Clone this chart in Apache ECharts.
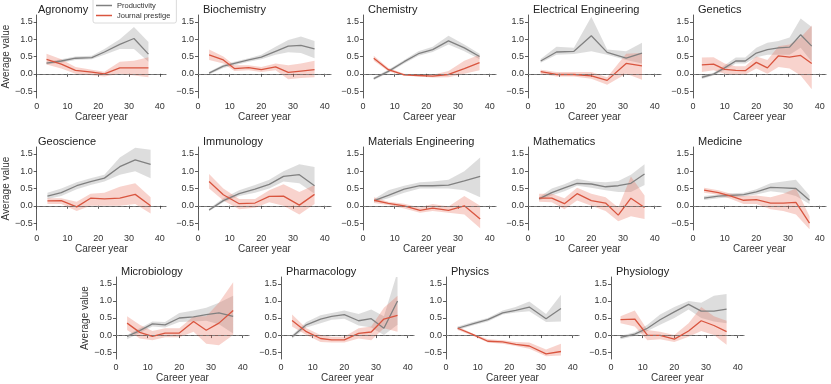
<!DOCTYPE html>
<html>
<head>
<meta charset="utf-8">
<script src="https://cdn.jsdelivr.net/npm/echarts@6/dist/echarts.min.js"></script>
<style>
  html, body { margin: 0; padding: 0; background: #fff; }
  #chart { width: 831px; height: 384px; }
</style>
</head>
<body>
<div id="chart"></div>
<script>
  // fields, in panel order (5 per row, last row 4)
  var fields = ['Agronomy', 'Biochemistry', 'Chemistry', 'Electrical Engineering', 'Genetics',
    'Geoscience', 'Immunology', 'Materials Engineering', 'Mathematics', 'Medicine',
    'Microbiology', 'Pharmacology', 'Physics', 'Physiology']

  var careerYears = [
    [3.2, 8, 12.6, 17.9, 22, 27, 31.6, 36.3],
    [3.5, 8, 11.5, 16, 20, 24.5, 28.5, 32.5, 36.8],
    [3.4, 8, 13, 17.5, 22, 27, 32, 36.8],
    [4, 9, 14.5, 20, 25, 31, 36],
    [2.8, 6.5, 10, 13.5, 16.5, 20, 23.5, 27, 30.5, 34, 37.5],
    [3.5, 8, 13, 17.5, 22, 27, 32, 37],
    [3.5, 8, 13, 18, 22.5, 27, 32, 36.8],
    [3.5, 8, 13, 18, 22, 27, 32, 37],
    [3.5, 7.5, 11.5, 15.5, 20, 24.5, 28.5, 32.5, 36.8],
    [3.5, 8, 12, 16, 20, 24.5, 28.5, 32.5, 36.8],
    [3.5, 7.5, 11.5, 15.5, 20, 24.5, 28.5, 32.5, 37],
    [3.5, 8, 12.5, 16, 20, 24.5, 28.5, 32.5, 36.8],
    [3.7, 8.4, 13.2, 17.9, 22, 26.3, 31.6, 36.3],
    [3, 7.5, 11.5, 15.5, 20, 24.5, 28.5, 32.5, 36.5]
  ]

  var productivity = [
    [0.31, 0.37, 0.45, 0.47, 0.63, 0.85, 1.02, 0.57],
    [0.02, 0.22, 0.30, 0.40, 0.48, 0.65, 0.80, 0.82, 0.72],
    [-0.14, 0.07, 0.35, 0.58, 0.70, 0.95, 0.75, 0.50],
    [0.37, 0.63, 0.65, 1.10, 0.62, 0.45, 0.60],
    [-0.10, -0.01, 0.17, 0.37, 0.37, 0.60, 0.70, 0.75, 0.77, 1.13, 0.80],
    [0.28, 0.38, 0.58, 0.70, 0.80, 1.13, 1.33, 1.20],
    [-0.12, 0.15, 0.35, 0.48, 0.62, 0.85, 0.90, 0.58],
    [0.15, 0.30, 0.48, 0.58, 0.58, 0.60, 0.72, 0.85],
    [0.20, 0.38, 0.52, 0.65, 0.63, 0.55, 0.58, 0.65, 0.92],
    [0.22, 0.28, 0.30, 0.32, 0.40, 0.53, 0.52, 0.50, 0.16],
    [-0.04, 0.13, 0.33, 0.30, 0.50, 0.53, 0.60, 0.65, 0.55],
    [-0.05, 0.30, 0.47, 0.55, 0.60, 0.42, 0.48, 0.20, 1.00],
    [0.20, 0.33, 0.45, 0.65, 0.72, 0.82, 0.48, 0.78],
    [-0.07, 0.03, 0.20, 0.45, 0.68, 0.90, 0.70, 0.70, 0.76]
  ]
  var productivityLow = [
    [0.27, 0.32, 0.40, 0.42, 0.55, 0.72, 0.72, 0.35],
    [-0.02, 0.17, 0.25, 0.35, 0.42, 0.55, 0.62, 0.60, 0.45],
    [-0.18, 0.02, 0.30, 0.52, 0.63, 0.85, 0.65, 0.42],
    [0.32, 0.55, 0.57, 0.65, 0.55, 0.40, 0.30],
    [-0.15, -0.05, 0.10, 0.30, 0.30, 0.48, 0.55, 0.55, 0.55, 0.75, 0.35],
    [0.20, 0.28, 0.48, 0.60, 0.70, 0.90, 1.00, 0.80],
    [-0.16, 0.10, 0.28, 0.38, 0.50, 0.70, 0.65, 0.35],
    [0.10, 0.22, 0.38, 0.50, 0.50, 0.50, 0.45, 0.25],
    [0.15, 0.30, 0.42, 0.58, 0.52, 0.45, 0.40, 0.40, 0.60],
    [0.17, 0.22, 0.25, 0.27, 0.33, 0.42, 0.38, 0.28, 0.05],
    [-0.12, 0.06, 0.25, 0.22, 0.38, 0.40, 0.42, 0.32, 0.05],
    [-0.10, 0.22, 0.35, 0.45, 0.48, 0.28, 0.22, 0.00, 0.30],
    [0.15, 0.28, 0.40, 0.60, 0.66, 0.70, 0.38, 0.40],
    [-0.12, -0.03, 0.12, 0.30, 0.50, 0.75, 0.50, 0.40, 0.35]
  ]
  var productivityHigh = [
    [0.35, 0.42, 0.50, 0.52, 0.72, 1.00, 1.35, 0.92],
    [0.06, 0.27, 0.35, 0.45, 0.55, 0.78, 0.98, 1.08, 0.95],
    [-0.10, 0.12, 0.40, 0.65, 0.78, 1.10, 0.85, 0.58],
    [0.43, 0.78, 0.75, 1.65, 0.70, 0.65, 0.90],
    [-0.05, 0.03, 0.25, 0.47, 0.47, 0.75, 0.90, 0.95, 1.05, 1.60, 1.35],
    [0.38, 0.50, 0.68, 0.80, 0.90, 1.40, 1.68, 1.62],
    [-0.08, 0.22, 0.45, 0.60, 0.75, 1.00, 1.20, 1.12],
    [0.20, 0.45, 0.58, 0.68, 0.70, 0.75, 1.00, 1.40],
    [0.25, 0.50, 0.62, 0.78, 0.70, 0.68, 0.72, 0.90, 1.20],
    [0.28, 0.33, 0.36, 0.38, 0.48, 0.65, 0.70, 0.75, 0.30],
    [0.00, 0.20, 0.40, 0.38, 0.65, 0.72, 0.80, 0.95, 1.15],
    [0.00, 0.38, 0.58, 0.65, 0.72, 0.62, 0.75, 0.55, 1.85],
    [0.25, 0.38, 0.50, 0.72, 0.82, 0.98, 0.62, 1.18],
    [-0.02, 0.08, 0.30, 0.60, 0.82, 1.00, 0.95, 1.15, 1.20]
  ]

  var prestige = [
    [0.42, 0.28, 0.10, 0.05, 0.00, 0.17, 0.17, 0.17],
    [0.55, 0.40, 0.15, 0.18, 0.12, 0.20, 0.04, 0.08, 0.12],
    [0.45, 0.12, -0.03, -0.05, -0.07, -0.02, 0.15, 0.32],
    [0.06, -0.02, -0.02, -0.06, -0.19, 0.30, 0.23],
    [0.26, 0.28, 0.13, 0.10, 0.09, 0.33, 0.17, 0.52, 0.48, 0.53, 0.30],
    [0.14, 0.15, -0.03, 0.22, 0.20, 0.22, 0.33, 0.00],
    [0.70, 0.32, 0.06, 0.08, 0.27, 0.28, 0.02, 0.33],
    [0.16, 0.07, 0.00, -0.13, -0.07, -0.13, 0.00, -0.38],
    [0.22, 0.22, 0.06, 0.35, 0.15, 0.08, -0.27, 0.22, -0.05],
    [0.45, 0.38, 0.28, 0.16, 0.18, 0.08, 0.08, 0.10, -0.50],
    [0.35, 0.08, -0.04, 0.06, 0.06, 0.40, 0.14, 0.35, 0.72],
    [0.43, 0.10, -0.10, -0.14, -0.14, 0.05, 0.09, 0.47, 0.58],
    [0.20, 0.02, -0.18, -0.20, -0.27, -0.32, -0.55, -0.48],
    [0.45, 0.47, 0.00, -0.01, -0.12, 0.12, 0.42, 0.28, 0.10]
  ]
  var prestigeLow = [
    [0.27, 0.15, 0.00, -0.04, -0.08, 0.00, -0.05, -0.10],
    [0.40, 0.30, 0.08, 0.10, 0.05, 0.10, -0.16, -0.12, -0.10],
    [0.38, 0.07, -0.06, -0.08, -0.11, -0.10, 0.00, 0.10],
    [0.00, -0.08, -0.08, -0.14, -0.32, 0.00, -0.17],
    [0.05, 0.10, 0.00, -0.02, -0.02, 0.15, 0.00, 0.20, 0.15, -0.05, -0.45],
    [0.05, 0.05, -0.15, 0.00, 0.00, 0.00, 0.05, -0.22],
    [0.50, 0.15, -0.10, -0.06, 0.10, 0.00, -0.25, 0.05],
    [0.08, 0.02, -0.08, -0.20, -0.15, -0.20, -0.25, -0.65],
    [0.12, 0.10, -0.10, 0.15, 0.00, -0.15, -0.45, -0.30, -0.38],
    [0.38, 0.32, 0.20, 0.05, 0.05, -0.10, -0.15, -0.25, -0.68],
    [0.15, -0.10, -0.15, -0.06, -0.06, 0.10, -0.25, -0.30, 0.00],
    [0.25, 0.00, -0.20, -0.22, -0.22, -0.10, -0.15, 0.20, 0.10],
    [0.15, -0.02, -0.22, -0.25, -0.32, -0.40, -0.62, -0.60],
    [0.35, 0.25, -0.15, -0.12, -0.20, -0.05, 0.12, 0.00, -0.28]
  ]
  var prestigeHigh = [
    [0.58, 0.42, 0.20, 0.12, 0.06, 0.35, 0.38, 0.48],
    [0.70, 0.50, 0.25, 0.25, 0.20, 0.30, 0.25, 0.30, 0.38],
    [0.52, 0.17, 0.00, -0.02, -0.03, 0.08, 0.38, 0.55],
    [0.12, 0.05, 0.05, 0.05, -0.10, 0.58, 0.60],
    [0.47, 0.48, 0.30, 0.22, 0.22, 0.50, 0.40, 0.80, 0.85, 1.05, 1.40],
    [0.22, 0.22, 0.12, 0.35, 0.38, 0.55, 0.65, 0.25],
    [0.92, 0.50, 0.20, 0.20, 0.45, 0.62, 0.40, 0.60],
    [0.25, 0.12, 0.06, -0.05, 0.05, -0.02, 0.28, 0.00],
    [0.35, 0.35, 0.22, 0.52, 0.35, 0.25, -0.05, 0.85, 0.30],
    [0.52, 0.45, 0.35, 0.28, 0.30, 0.25, 0.35, 0.50, -0.30],
    [0.55, 0.30, 0.12, 0.20, 0.20, 0.55, 0.55, 0.95, 1.55],
    [0.60, 0.20, 0.00, -0.05, -0.05, 0.20, 0.25, 0.80, 1.15],
    [0.25, 0.05, -0.12, -0.15, -0.20, -0.22, -0.42, -0.25],
    [0.55, 0.72, 0.15, 0.10, 0.00, 0.35, 0.82, 0.55, 0.42]
  ]

  var xTicks = [0, 10, 20, 30, 40]
  var yTicks = [-0.5, 0, 0.5, 1.0, 1.5]

  var font = 'Liberation Sans'
  var grayLine = '#808080'
  var redLine = '#d9553f'
  var grayBand = 'rgba(150,150,150,0.32)'
  var redBand = 'rgba(232,110,90,0.3)'

  function pairs (xs, ys) {
    return xs.map(function (x, i) { return [x, ys[i]] })
  }
  function triples (xs, lo, hi) {
    return xs.map(function (x, i) { return [x, lo[i], hi[i]] })
  }
  function fmtY (v) {
    return v < 0 ? '\u2212' + Math.abs(v).toFixed(1) : v.toFixed(1)
  }
  // whole band as one polygon, drawn on the first data item
  function bandRenderer (rows, color) {
    return function (params, api) {
      if (params.dataIndex !== 0) return null
      var upper = [], lower = []
      for (var k = 0; k < rows.length; k++) {
        upper.push(api.coord([rows[k][0], rows[k][2]]))
        lower.unshift(api.coord([rows[k][0], rows[k][1]]))
      }
      return {type: 'polygon', shape: {points: upper.concat(lower)}, style: {fill: color}, silent: true}
    }
  }

  var grids = [], xAxes = [], yAxes = [], titles = [], series = []

  for (var i = 0; i < fields.length; i++) {
    var row = Math.floor(i / 5), col = i % 5
    var gridLeft = (row < 2 ? 33 : 116) + 165 * col
    var gridTop = [15, 147, 277][row]
    grids.push({left: gridLeft, top: gridTop, width: 133, height: 83})
    titles.push({
      text: fields[i], left: gridLeft + 5, top: gridTop - 11, padding: 0,
      textStyle: {fontSize: 11, fontWeight: 'normal', color: '#222', fontFamily: font}
    })
    xAxes.push({
      type: 'value', gridIndex: i, min: 0, max: 42,
      name: 'Career year', nameLocation: 'middle', nameGap: 14,
      nameTextStyle: {fontSize: 10, color: '#333', fontFamily: font},
      splitLine: {show: false},
      axisLine: {show: true, lineStyle: {color: '#333', width: 0.8}},
      axisTick: {show: true, length: 3, customValues: xTicks, lineStyle: {color: '#333', width: 0.8}},
      axisLabel: {customValues: xTicks, margin: 4, fontSize: 9, color: '#333', fontFamily: font}
    })
    yAxes.push({
      type: 'value', gridIndex: i, min: -0.7, max: 1.7,
      name: col === 0 ? 'Average value' : '', nameLocation: 'middle', nameGap: 22,
      nameTextStyle: {fontSize: 10, color: '#333', fontFamily: font},
      splitLine: {show: false},
      axisLine: {show: true, lineStyle: {color: '#333', width: 0.8}},
      axisTick: {show: true, length: 3, customValues: yTicks, lineStyle: {color: '#333', width: 0.8}},
      axisLabel: {customValues: yTicks, margin: 4, fontSize: 9, color: '#333', fontFamily: font, formatter: fmtY}
    })

    var xs = careerYears[i]
    var pRows = triples(xs, productivityLow[i], productivityHigh[i])
    var jRows = triples(xs, prestigeLow[i], prestigeHigh[i])
    series.push({
      type: 'custom', name: 'pband' + i, xAxisIndex: i, yAxisIndex: i, z: 1, clip: true,
      encode: {x: 0, y: [1, 2]}, data: pRows, renderItem: bandRenderer(pRows, grayBand)
    })
    series.push({
      type: 'custom', name: 'jband' + i, xAxisIndex: i, yAxisIndex: i, z: 1, clip: true,
      encode: {x: 0, y: [1, 2]}, data: jRows, renderItem: bandRenderer(jRows, redBand)
    })
    series.push({
      type: 'line', name: 'Productivity', xAxisIndex: i, yAxisIndex: i,
      symbol: 'none', z: 3, color: grayLine,
      lineStyle: {color: grayLine, width: 1.3},
      data: pairs(xs, productivity[i]),
      markLine: {
        silent: true, symbol: 'none', label: {show: false},
        lineStyle: {color: '#808080', type: [3, 3], width: 0.9},
        data: [{yAxis: 0}]
      }
    })
    series.push({
      type: 'line', name: 'Journal prestige', xAxisIndex: i, yAxisIndex: i,
      symbol: 'none', z: 4, color: redLine,
      lineStyle: {color: redLine, width: 1.3},
      data: pairs(xs, prestige[i])
    })
  }

  var chart = echarts.init(document.getElementById('chart'))
  chart.setOption({
    animation: false,
    backgroundColor: '#fff',
    title: titles,
    legend: {
      data: ['Productivity', 'Journal prestige'],
      orient: 'vertical', left: 93, top: -2, z: 10,
      icon: 'rect', itemWidth: 16, itemHeight: 1.5, itemGap: 1,
      padding: [3, 6, 3, 3],
      backgroundColor: '#fff',
      borderColor: '#d0d0d0', borderWidth: 0.8, borderRadius: 2,
      textStyle: {fontSize: 7.5, color: '#333', fontFamily: font, lineHeight: 9}
    },
    grid: grids,
    xAxis: xAxes,
    yAxis: yAxes,
    series: series
  })
</script>
</body>
</html>
